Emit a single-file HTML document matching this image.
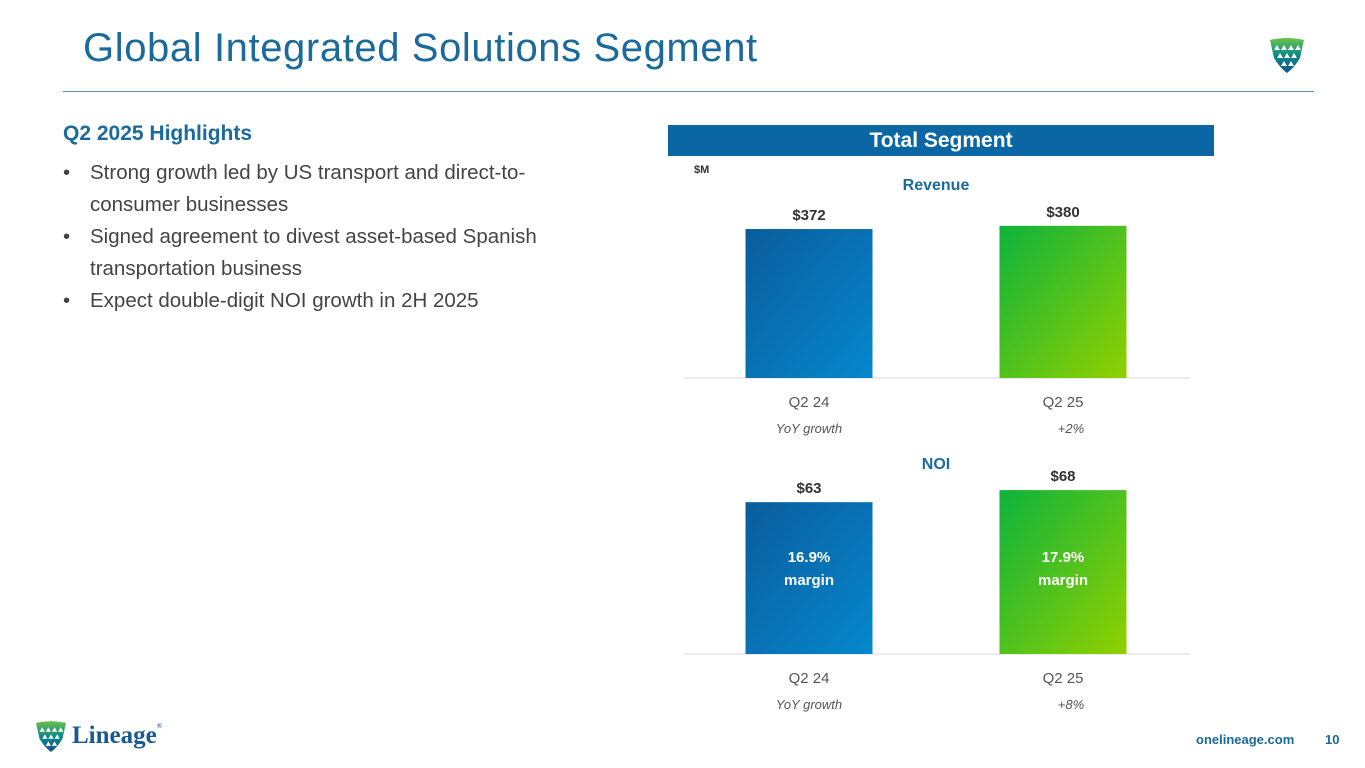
<!DOCTYPE html>
<html><head><meta charset="utf-8"><style>
body{margin:0;width:1365px;height:768px;background:#fff;font-family:"Liberation Sans",sans-serif;position:relative;overflow:hidden}
.a{position:absolute}
.title{left:83px;top:26px;font-size:40px;color:#1a6a9c;letter-spacing:0.6px}
.hl{left:63px;top:122px;font-size:21px;font-weight:bold;color:#1a6a9c}
ul{position:absolute;left:63px;top:157px;margin:0;padding:0;list-style:none;width:520px}
li{font-size:20.5px;color:#444;line-height:32px;padding-left:27px;position:relative}
li:before{content:"•";position:absolute;left:0}
</style></head><body>
<div class="a title">Global Integrated Solutions Segment</div>
<div class="a" style="left:63px;top:91px;width:1251px;height:1px;background:#5b8da6"></div>
<svg class="a" style="left:1270px;top:38px" width="34" height="36" viewBox="0 0 34 36">
<defs><linearGradient id="lg" x1="0" y1="0" x2="0" y2="1"><stop offset="0" stop-color="#6cc24a"/><stop offset="0.5" stop-color="#0a8a8a"/><stop offset="1" stop-color="#1a4f8c"/></linearGradient></defs>
<path d="M0 2 Q17 -2 34 2 L30 20 Q24 30 17 35 Q10 30 4 20 Z" fill="url(#lg)"/>
<path d="M4 12 l3 -5 l3 5z M11 12 l3 -5 l3 5z M18 12 l3 -5 l3 5z M25 12 l3 -5 l3 5z M7 20 l3 -5 l3 5z M14 20 l3 -5 l3 5z M21 20 l3 -5 l3 5z M11 28 l3 -5 l3 5z M18 28 l3 -5 l3 5z" fill="#fff"/>
</svg>
<div class="a hl">Q2 2025 Highlights</div>
<ul>
<li>Strong growth led by US transport and direct-to-consumer businesses</li>
<li>Signed agreement to divest asset-based Spanish transportation business</li>
<li>Expect double-digit NOI growth in 2H 2025</li>
</ul>
<div class="a" style="left:668px;top:125px;width:546px;height:31px;background:#0b67a3;color:#fff;font-weight:bold;font-size:21px;text-align:center;line-height:31px">Total Segment</div>
<div class="a" style="left:694px;top:164px;font-size:11px;font-weight:bold;color:#333">$M</div>
<svg id="ch" class="a" style="left:0;top:0" width="1365" height="768">
<defs>
<linearGradient id="gb" x1="0" y1="0" x2="1" y2="1"><stop offset="0" stop-color="#0a5d9d"/><stop offset="1" stop-color="#0687cc"/></linearGradient>
<linearGradient id="gg" x1="0" y1="0" x2="1" y2="1"><stop offset="0" stop-color="#0db33c"/><stop offset="1" stop-color="#92d000"/></linearGradient>
</defs>
</svg>
<svg class="a" style="left:36px;top:721px" width="30" height="32" viewBox="0 0 34 36">
<path d="M0 2 Q17 -2 34 2 L30 20 Q24 30 17 35 Q10 30 4 20 Z" fill="url(#lg)"/>
<path d="M4 12 l3 -5 l3 5z M11 12 l3 -5 l3 5z M18 12 l3 -5 l3 5z M25 12 l3 -5 l3 5z M7 20 l3 -5 l3 5z M14 20 l3 -5 l3 5z M21 20 l3 -5 l3 5z M11 28 l3 -5 l3 5z M18 28 l3 -5 l3 5z" fill="#fff"/>
</svg>
<div class="a" style="left:72px;top:722px;font-family:'Liberation Serif',serif;font-weight:bold;font-size:25px;color:#1a5a94">Lineage<span style="font-size:7px;vertical-align:top">®</span></div>
<div class="a" style="left:1196px;top:732px;font-size:13px;font-weight:bold;color:#1a6a9c">onelineage.com</div>
<div class="a" style="left:1325px;top:732px;font-size:13px;font-weight:bold;color:#1a6a9c">10</div>
<script>
const categories=["Q2 24","Q2 25"];
const revenueValues=[372,380];
const noiValues=[63,68];
const noiMargins=["16.9%","17.9%"];
const revenueGrowth="+2%";
const noiGrowth="+8%";
const svg=document.getElementById('ch');
const NS="http://www.w3.org/2000/svg";
function t(x,y,s,opt){const e=document.createElementNS(NS,'text');e.setAttribute('x',x);e.setAttribute('y',y);e.setAttribute('text-anchor','middle');e.setAttribute('font-size',opt.size||15);e.setAttribute('fill',opt.fill||'#444');if(opt.bold)e.setAttribute('font-weight','bold');if(opt.it)e.setAttribute('font-style','italic');e.setAttribute('font-family','Liberation Sans, sans-serif');e.textContent=s;svg.appendChild(e);return e;}
const xCenter=i=>809+i*254;
const barW=127;
function chart(vals,base,scale,name,title,titleY,growth,margins){
 const y=v=>base-v*scale;
 const ax=document.createElementNS(NS,'line');
 ax.setAttribute('x1',683);ax.setAttribute('x2',1190);ax.setAttribute('y1',base);ax.setAttribute('y2',base);ax.setAttribute('stroke','#d9d9d9');
 
 
 svg.appendChild(ax);
 let tt=t(936,titleY,title,{size:16,bold:true,fill:'#1a6a9c'});
 
 
 vals.forEach((v,i)=>{
  const r=document.createElementNS(NS,'rect');
  r.setAttribute('x',xCenter(i)-barW/2);r.setAttribute('width',barW);r.setAttribute('y',y(v));r.setAttribute('height',base-y(v));
  r.setAttribute('fill',i==0?'url(#gb)':'url(#gg)');
  
  
  svg.appendChild(r);
  let l=t(xCenter(i),y(v)-9,'$'+v,{size:15,bold:true,fill:'#333'});
  
  
  let c=t(xCenter(i),base+29,categories[i],{size:15,fill:'#555'});
  
  
  if(margins){
   let m1=t(xCenter(i),base-92,margins[i],{size:15,bold:true,fill:'#fff'});
   
   
   let m2=t(xCenter(i),base-69,'margin',{size:15,bold:true,fill:'#fff'});
   
   
  }
 });
 let g1=t(xCenter(0),base+55,'YoY growth',{size:13,it:true,fill:'#555'});
 
 
 let g2=t(xCenter(1)+8,base+55,growth,{size:13,it:true,fill:'#555'});
 
 
}
chart(revenueValues,378,0.4005,'revenue','Revenue',190,revenueGrowth,null);
chart(noiValues,654,2.41,'noi','NOI',469,noiGrowth,noiMargins);
</script>
</body></html>
